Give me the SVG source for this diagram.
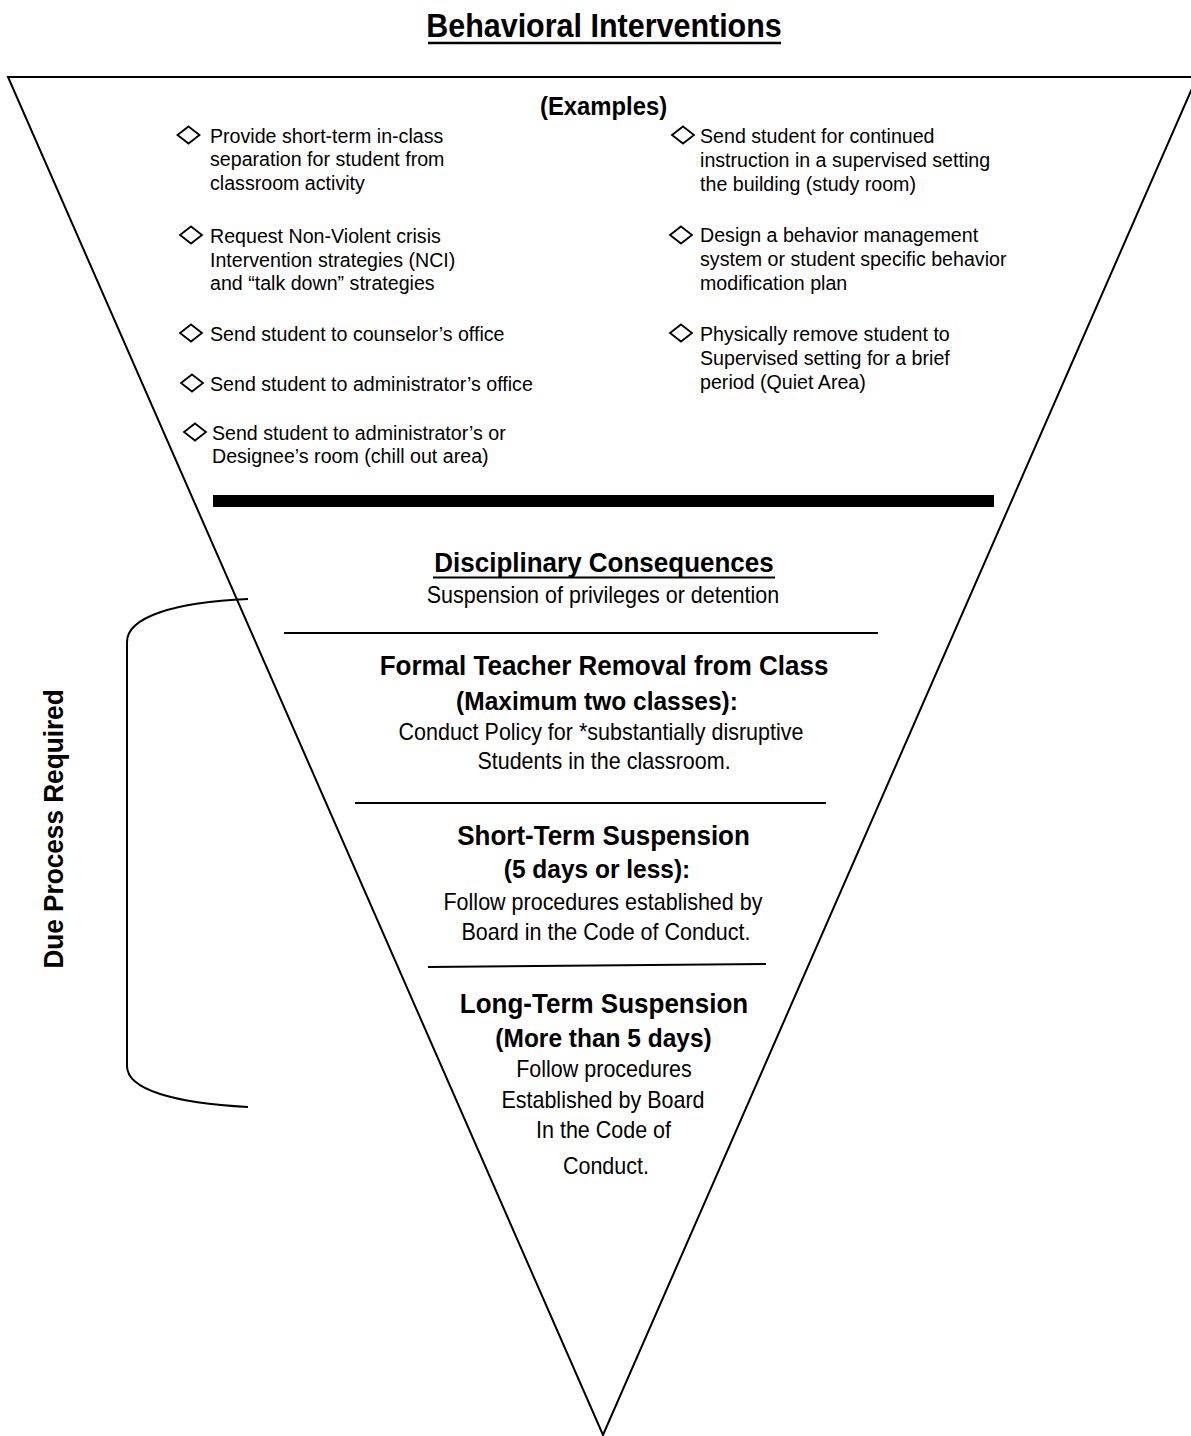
<svg xmlns="http://www.w3.org/2000/svg" xmlns:xlink="http://www.w3.org/1999/xlink" width="1191" height="1436" viewBox="0 0 1191 1436">
<style>
text{font-family:"Liberation Sans",Arial,sans-serif;fill:#000}
.it{font-size:21px}
.bd{font-size:23px}
.h{font-size:27.8px;font-weight:bold}
.sh{font-size:26.2px;font-weight:bold}
.c{text-anchor:middle}
.ln{stroke:#000;fill:none}
</style>
<defs>
<polygon id="dia" points="0,-8.5 11,0 0,8.5 -11,0" fill="none" stroke="#000" stroke-width="1.8"/>
</defs>
<rect width="1191" height="1436" fill="#fff"/>
<g id="title">
<g transform="scale(0.935,1)">
<text x="646" y="37" class="c" style="font-size:32.6px;font-weight:bold">Behavioral Interventions</text>
</g>
<line x1="428" y1="43" x2="781" y2="43" class="ln" stroke-width="2.5"/>
</g>
<g id="triangle">
<polygon points="8,77 1197,77 603,1435" fill="none" stroke="#000" stroke-width="2"/>
</g>
<g id="examples">
<use xlink:href="#dia" x="188.5" y="135"/>
<use xlink:href="#dia" x="191" y="235"/>
<use xlink:href="#dia" x="191" y="333"/>
<use xlink:href="#dia" x="192" y="383"/>
<use xlink:href="#dia" x="195" y="432"/>
<use xlink:href="#dia" x="683" y="135"/>
<use xlink:href="#dia" x="681" y="235"/>
<use xlink:href="#dia" x="681" y="333"/>
<g transform="scale(0.935,1)">
<text x="645.5" y="115" class="c" style="font-size:25.5px;font-weight:bold">(Examples)</text>
<text class="it" x="224.6" y="143">Provide short-term in-class</text>
<text class="it" x="224.6" y="166">separation for student from</text>
<text class="it" x="224.6" y="190">classroom activity</text>
<text class="it" x="224.6" y="243">Request Non-Violent crisis</text>
<text class="it" x="224.6" y="267">Intervention strategies (NCI)</text>
<text class="it" x="224.6" y="290">and “talk down” strategies</text>
<text class="it" x="224.6" y="341">Send student to counselor’s office</text>
<text class="it" x="224.6" y="391">Send student to administrator’s office</text>
<text class="it" x="226.7" y="440">Send student to administrator’s or</text>
<text class="it" x="226.7" y="463">Designee’s room (chill out area)</text>
<text class="it" x="748.7" y="143">Send student for continued</text>
<text class="it" x="748.7" y="167">instruction in a supervised setting</text>
<text class="it" x="748.7" y="191">the building (study room)</text>
<text class="it" x="748.7" y="242">Design a behavior management</text>
<text class="it" x="748.7" y="266">system or student specific behavior</text>
<text class="it" x="748.7" y="290">modification plan</text>
<text class="it" x="748.7" y="341">Physically remove student to</text>
<text class="it" x="748.7" y="365">Supervised setting for a brief</text>
<text class="it" x="748.7" y="389">period (Quiet Area)</text>
</g>
</g>
<g id="divider">
<rect x="213" y="495" width="781" height="12" fill="#000"/>
</g>
<g id="disciplinary">
<g transform="scale(0.935,1)">
<text x="646" y="572" class="c h">Disciplinary Consequences</text>
<text x="644.9" y="603" class="c bd">Suspension of privileges or detention</text>
</g>
<line x1="433" y1="577.5" x2="775" y2="577.5" class="ln" stroke-width="2"/>
</g>
<g id="formal-removal" transform="scale(0.935,1)">
<text x="646" y="675" class="c h">Formal Teacher Removal from Class</text>
<text x="638.5" y="710" class="c sh">(Maximum two classes):</text>
<text x="642.8" y="740" class="c bd">Conduct Policy for *substantially disruptive</text>
<text x="646" y="769" class="c bd">Students in the classroom.</text>
</g>
<g id="short-term" transform="scale(0.935,1)">
<text x="645.5" y="845" class="c h">Short-Term Suspension</text>
<text x="638.5" y="878" class="c sh">(5 days or less):</text>
<text x="644.9" y="910" class="c bd">Follow procedures established by</text>
<text x="648.1" y="940" class="c bd">Board in the Code of Conduct.</text>
</g>
<g id="long-term" transform="scale(0.935,1)">
<text x="646" y="1013" class="c h">Long-Term Suspension</text>
<text x="645.5" y="1047" class="c sh">(More than 5 days)</text>
<text x="646" y="1077" class="c bd">Follow procedures</text>
<text x="644.9" y="1108" class="c bd">Established by Board</text>
<text x="645.5" y="1138" class="c bd">In the Code of</text>
<text x="648.1" y="1174" class="c bd">Conduct.</text>
</g>
<g id="connectors">
<line x1="284" y1="633" x2="878" y2="633" class="ln" stroke-width="2"/>
<line x1="355" y1="803" x2="826" y2="803" class="ln" stroke-width="2"/>
<line x1="428" y1="967" x2="766" y2="964" class="ln" stroke-width="2"/>
<path d="M248,599 C175,602 127,617 127,642 L127,1066 C127,1090 175,1103 248,1107" class="ln" stroke-width="2"/>
</g>
<g id="due-process">
<text transform="translate(63,829) rotate(-90) scale(0.935,1)" class="c" style="font-size:28px;font-weight:bold">Due Process Required</text>
</g>
</svg>
